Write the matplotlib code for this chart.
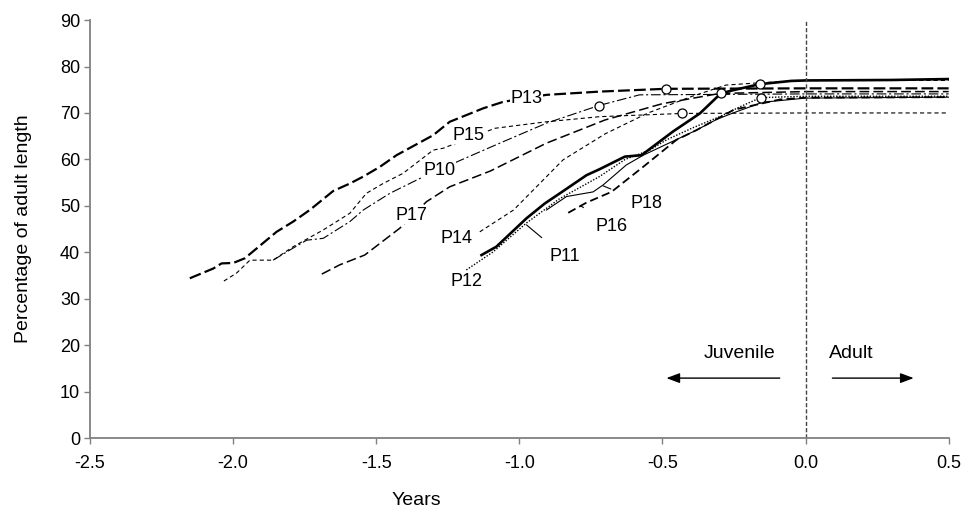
import numpy as np
import matplotlib
matplotlib.use('Agg')
import matplotlib.pyplot as plt

plt.rcParams['font.family'] = ['Liberation Sans', 'DejaVu Sans']
plt.rcParams['lines.scale_dashes'] = False

# Data (years before adulthood, % of adult length)
p13_x = [-2.151, -2.069, -2.040, -1.999, -1.959, -1.918, -1.848, -1.790, -1.732, -1.650, -1.592, -1.545,
         -1.487, -1.429, -1.301, -1.243, -1.126, -1.056, -0.905, -0.719, -0.489, 0.0, 0.5]
p13_y = [34.4, 36.5, 37.6, 37.7, 38.7, 40.8, 44.4, 46.6, 49.1, 53.2, 54.8, 56.3,
         58.4, 60.9, 65.2, 68.1, 71.0, 72.4, 73.9, 74.6, 75.2, 75.3, 75.3]

p15_x = [-2.032, -1.988, -1.941, -1.860, -1.790, -1.685, -1.592, -1.534, -1.476, -1.406, -1.301, -1.266,
         -1.085, -0.905, -0.719, -0.430, 0.0, 0.5]
p15_y = [33.8, 35.5, 38.3, 38.3, 41.2, 44.8, 48.4, 52.7, 54.8, 57.0, 62.0, 62.4,
         66.7, 68.1, 69.2, 69.9, 70.0, 70.0]

p10_x = [-1.860, -1.801, -1.743, -1.685, -1.592, -1.545, -1.452, -1.347, -1.202, -1.068, -0.905, -0.722,
         -0.58, 0.0, 0.5]
p10_y = [38.3, 40.5, 42.6, 43.0, 46.6, 49.1, 52.7, 55.9, 59.9, 63.5, 67.8, 71.6,
         73.9, 74.1, 74.1]

p17_x = [-1.690, -1.627, -1.540, -1.417, -1.324, -1.243, -1.101, -0.905, -0.70, -0.50, -0.30, 0.0, 0.5]
p17_y = [35.3, 37.3, 39.4, 45.2, 50.9, 54.1, 57.5, 63.5, 68.5, 72.0, 74.2, 74.6, 74.6]

p14_x = [-1.138, -1.02, -0.847, -0.70, -0.55, -0.40, -0.278, -0.16, 0.0, 0.5]
p14_y = [44.4, 49.1, 59.9, 65.5, 70.0, 73.5, 76.0, 76.5, 77.0, 77.0]

p12_x = [-1.185, -1.091, -0.975, -0.86, -0.72, -0.63, -0.544, -0.486, -0.394, -0.30, -0.23, -0.157,
         0.0, 0.5]
p12_y = [36.2, 40.1, 46.3, 51.5, 56.3, 60.0, 62.0, 64.2, 66.8, 69.2, 71.3, 73.3,
         73.6, 73.6]

p11_x = [-1.132, -1.08, -0.975, -0.911, -0.858, -0.765, -0.719, -0.631, -0.573, -0.463, -0.369, -0.296,
         -0.253, -0.16, -0.05, 0.0, 0.3, 0.5]
p11_y = [39.4, 41.2, 47.3, 50.5, 52.7, 56.6, 57.9, 60.6, 60.9, 66.0, 69.9, 74.2,
         74.9, 76.2, 76.9, 77.0, 77.1, 77.3]

p18_x = [-0.905, -0.835, -0.742, -0.707, -0.626, -0.567, -0.381, -0.311, -0.253, -0.15, 0.0, 0.5]
p18_y = [49.1, 52.0, 53.0, 54.5, 58.8, 60.9, 66.3, 68.6, 70.0, 72.3, 73.2, 73.4]

p16_x = [-0.829, -0.765, -0.678, -0.567, -0.451, -0.381, -0.25, -0.09, 0.0, 0.5]
p16_y = [48.5, 50.7, 53.0, 58.4, 64.2, 66.3, 70.7, 72.9, 73.3, 73.4]

circle_x = [-0.489, -0.722, -0.430, -0.296, -0.160, -0.157]
circle_y = [75.2, 71.6, 69.9, 74.2, 76.3, 73.3]


fig = plt.figure(figsize=(9.67, 5.15), dpi=100)
ax = fig.add_axes([0.093, 0.1495, 0.888, 0.8115])

k = 'black'
ax.plot(p13_x, p13_y, color=k, lw=1.6, dashes=(8.5, 3))
ax.plot(p15_x, p15_y, color=k, lw=0.8, dashes=(3, 2.2))
ax.plot(p10_x, p10_y, color=k, lw=0.8, dashes=(7, 2, 1.5, 2))
ax.plot(p17_x, p17_y, color=k, lw=1.1, dashes=(7, 3))
ax.plot(p14_x, p14_y, color=k, lw=0.8, dashes=(3, 2.2))
ax.plot(p12_x, p12_y, color=k, lw=1.0, dashes=(1, 1.2))
ax.plot(p11_x, p11_y, color=k, lw=1.9)
ax.plot(p18_x, p18_y, color=k, lw=0.8)
ax.plot(p16_x, p16_y, color=k, lw=1.3, dashes=(6, 3))

ax.plot(circle_x, circle_y, 'o', ms=6.5, mfc='white', mec=k, mew=0.9, zorder=5)

# adult boundary
ax.axvline(0.0, color='#444444', lw=1.0, dashes=(3, 1.5))

# labels on lines
box = dict(facecolor='white', edgecolor='none', pad=0.5)
fs = 13
ax.text(-0.975, 73.2, 'P13', fontsize=fs, ha='center', va='center', bbox=box, zorder=6)
ax.text(-1.176, 65.2, 'P15', fontsize=fs, ha='center', va='center', bbox=box, zorder=6)
ax.text(-1.280, 57.7, 'P10', fontsize=fs, ha='center', va='center', bbox=box, zorder=6)
ax.text(-1.376, 48.0, 'P17', fontsize=fs, ha='center', va='center', bbox=box, zorder=6)
ax.text(-1.22, 43.0, 'P14', fontsize=fs, ha='center', va='center')
ax.text(-1.185, 33.7, 'P12', fontsize=fs, ha='center', va='center')

# labels with leader lines
ax.annotate('P11', xy=(-0.975, 45.9), xytext=(-0.841, 39.0), fontsize=fs, ha='center', va='center',
            arrowprops=dict(arrowstyle='-', color=k, lw=0.8, shrinkA=9, shrinkB=0))
ax.annotate('P18', xy=(-0.707, 54.3), xytext=(-0.556, 50.5), fontsize=fs, ha='center', va='center',
            arrowprops=dict(arrowstyle='-', color=k, lw=0.8, shrinkA=13, shrinkB=0))
ax.annotate('P16', xy=(-0.785, 50.0), xytext=(-0.678, 45.5), fontsize=fs, ha='center', va='center',
            arrowprops=dict(arrowstyle='-', color=k, lw=0.8, shrinkA=10, shrinkB=0))

# juvenile / adult arrows
ax.annotate('', xy=(-0.486, 12.9), xytext=(-0.09, 12.9),
            arrowprops=dict(arrowstyle='-|>,head_length=0.8,head_width=0.3', color=k, lw=1.0,
                            shrinkA=0, shrinkB=0))
ax.annotate('', xy=(0.378, 12.9), xytext=(0.094, 12.9),
            arrowprops=dict(arrowstyle='-|>,head_length=0.8,head_width=0.3', color=k, lw=1.0,
                            shrinkA=0, shrinkB=0))
ax.text(-0.23, 18.3, 'Juvenile', fontsize=14, ha='center', va='center')
ax.text(0.16, 18.3, 'Adult', fontsize=14, ha='center', va='center')

ax.set_xlim(-2.5, 0.5)
ax.set_ylim(0, 90)
ax.set_xticks(np.arange(-2.5, 0.51, 0.5))
ax.set_xticklabels(['-2.5', '-2.0', '-1.5', '-1.0', '-0.5', '0.0', '0.5'])
ax.set_yticks(np.arange(0, 91, 10))
ax.tick_params(labelsize=13, length=4, width=1, color='#808080', direction='out', pad=3)
ax.tick_params(axis='x', pad=8)
for s in ['top', 'right']:
    ax.spines[s].set_visible(False)
for s in ['left', 'bottom']:
    ax.spines[s].set_color('#808080')
    ax.spines[s].set_linewidth(1.3)

ax.set_ylabel('Percentage of adult length', fontsize=14)
ax.yaxis.set_label_coords(-0.068, 0.5)
ax.set_xlabel('Years', fontsize=14)
ax.xaxis.set_label_coords(0.38, -0.13)

fig.savefig('out.png', dpi=100)
